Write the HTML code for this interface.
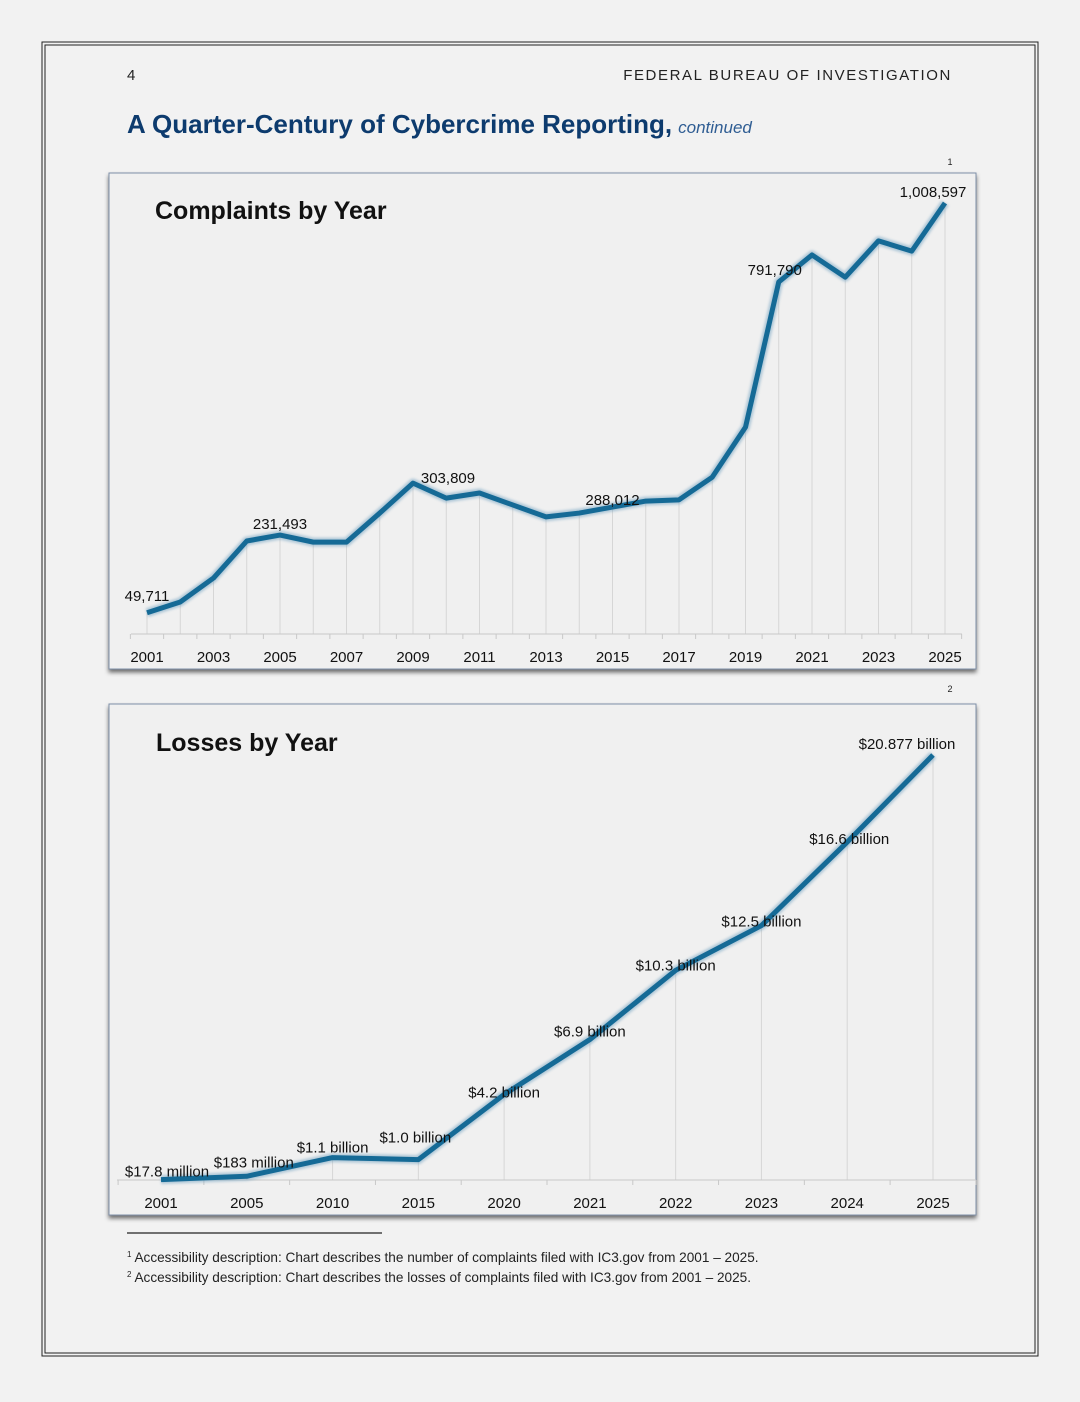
<!DOCTYPE html>
<html><head><meta charset="utf-8">
<style>
html,body{margin:0;padding:0;background:#f2f2f2;}
body{width:1080px;height:1397px;position:relative;font-family:"Liberation Sans",sans-serif;overflow:hidden;}
svg text{font-family:"Liberation Sans",sans-serif;}
</style></head>
<body>
<svg id="page" width="1080" height="1397" viewBox="0 0 1080 1397" xmlns="http://www.w3.org/2000/svg">
<defs>
<filter id="sh" x="-5%" y="-5%" width="110%" height="110%"><feDropShadow dx="0" dy="3" stdDeviation="2" flood-color="#000" flood-opacity="0.55"/></filter>
<filter id="glow" x="-5%" y="-5%" width="110%" height="110%"><feGaussianBlur stdDeviation="1.3"/></filter>
</defs>
<rect x="42" y="42" width="996" height="1314" fill="none" stroke="#222" stroke-width="1"/>
<rect x="45" y="45" width="990" height="1308" fill="none" stroke="#222" stroke-width="1"/>
<text x="127" y="80" font-size="15" fill="#222">4</text>
<text x="952" y="80" font-size="15" fill="#222" text-anchor="end" letter-spacing="1.6">FEDERAL BUREAU OF INVESTIGATION</text>
<text x="127" y="133" font-size="26" font-weight="bold" fill="#0d3b6e">A Quarter-Century of Cybercrime Reporting,<tspan font-size="17" font-weight="normal" font-style="italic" fill="#2f5d93" dx="6">continued</tspan></text>

<text x="950" y="165" font-size="9" fill="#222" text-anchor="middle">1</text>
<rect x="109" y="173" width="867" height="496" fill="#f0f0f0" stroke="#7e8fa8" stroke-width="1" filter="url(#sh)"/>
<text x="155" y="219" font-size="25" font-weight="bold" fill="#111">Complaints by Year</text>
<g id="c1"></g>

<text x="950" y="692" font-size="9" fill="#222" text-anchor="middle">2</text>
<rect x="109" y="704" width="867" height="511" fill="#f0f0f0" stroke="#7e8fa8" stroke-width="1" filter="url(#sh)"/>
<text x="156" y="751" font-size="25" font-weight="bold" fill="#111">Losses by Year</text>
<g id="c2"></g>

<line x1="127" y1="1233" x2="382" y2="1233" stroke="#222" stroke-width="1.2"/>
<text x="127" y="1262" font-size="13.6" fill="#222"><tspan font-size="8" dy="-5">1</tspan><tspan dy="5" dx="3">Accessibility description: Chart describes the number of complaints filed with IC3.gov from 2001 – 2025.</tspan></text>
<text x="127" y="1282" font-size="13.6" fill="#222"><tspan font-size="8" dy="-5">2</tspan><tspan dy="5" dx="3">Accessibility description: Chart describes the losses of complaints filed with IC3.gov from 2001 – 2025.</tspan></text>
</svg>
<script>
const NS="http://www.w3.org/2000/svg";
const complaintYears=[2001,2002,2003,2004,2005,2006,2007,2008,2009,2010,2011,2012,2013,2014,2015,2016,2017,2018,2019,2020,2021,2022,2023,2024,2025];
const complaintValues=[49711,74900,131000,217600,231493,215000,215000,283000,353000,318000,330000,302000,274000,283000,297000,311000,314000,367000,484000,824000,887000,835000,920000,896000,1008597];
const complaintLabels=["49,711","","","","231,493","","","","303,809","","","","","","288,012","","","","","791,790","","","","","1,008,597"];
const lossCategories=["2001","2005","2010","2015","2020","2021","2022","2023","2024","2025"];
const lossValues=[0.0178,0.183,1.1,1.0,4.2,6.9,10.3,12.5,16.6,20.877];
const lossLabels=["$17.8 million","$183 million","$1.1 billion","$1.0 billion","$4.2 billion","$6.9 billion","$10.3 billion","$12.5 billion","$16.6 billion","$20.877 billion"];

function mk(parent,tag,attrs,text){const e=document.createElementNS(NS,tag);for(const k in attrs)e.setAttribute(k,attrs[k]);if(text!==undefined)e.textContent=text;parent.appendChild(e);return e;}

// Chart 1
(function(){
  const g=document.getElementById('c1');
  const x0=147,x1=945,base=634,top=203,vmax=1008597;
  const n=complaintYears.length;
  const xs=i=>x0+(x1-x0)*i/(n-1);
  const ys=v=>base-(base-top)*v/vmax;
  complaintYears.forEach((yr,i)=>{
    const gl=mk(g,'line',{x1:xs(i),x2:xs(i),y1:ys(complaintValues[i]),y2:base,stroke:'#d6d6d6','stroke-width':1});
    
    
  });
  const ax=mk(g,'line',{x1:131,x2:962,y1:base,y2:base,stroke:'#c8c8c8','stroke-width':1});
  
  
  for(let i=0;i<=n;i++){const tx=x0+(x1-x0)*(i-0.5)/(n-1);const t=mk(g,'line',{x1:tx,x2:tx,y1:base,y2:base+5,stroke:'#c8c8c8'});
    
    }
  const pts=complaintValues.map((v,i)=>xs(i)+','+ys(v)).join(' ');
  const glow=mk(g,'polyline',{points:pts,fill:'none',stroke:'#6fa0c0','stroke-width':9,'stroke-linejoin':'round',opacity:0.5,filter:'url(#glow)'});
  
  
  const line=mk(g,'polyline',{points:pts,fill:'none',stroke:'#156a96','stroke-width':5,'stroke-linejoin':'round'});
  
  
  complaintYears.forEach((yr,i)=>{
    if(i%2===0){const t=mk(g,'text',{x:xs(i),y:662,'font-size':15,fill:'#111','text-anchor':'middle'},String(yr));
      
      }
    if(complaintLabels[i]){
      let dx=0,dy=-8;
      if(yr===2001){dx=0;dy=-12;} if(yr===2005){dy=-6;} if(yr===2009){dx=35;dy=0;} if(yr===2015){dx=0;dy=-2;} if(yr===2020){dx=-4;dy=-7;} if(yr===2025){dx=-12;dy=-6;}
      const t=mk(g,'text',{x:xs(i)+dx,y:ys(complaintValues[i])+dy,'font-size':15,fill:'#111','text-anchor':'middle'},complaintLabels[i]);
      
      
    }
  });
})();

// Chart 2
(function(){
  const g=document.getElementById('c2');
  const x0=161,x1=933,base=1180,top=755,vmax=20.877;
  const n=lossCategories.length;
  const xs=i=>x0+(x1-x0)*i/(n-1);
  const ys=v=>base-(base-top)*v/vmax;
  lossCategories.forEach((c,i)=>{
    const gl=mk(g,'line',{x1:xs(i),x2:xs(i),y1:ys(lossValues[i]),y2:base,stroke:'#d6d6d6','stroke-width':1});
    
    
  });
  const ax=mk(g,'line',{x1:117,x2:976,y1:base,y2:base,stroke:'#c8c8c8','stroke-width':1});
  
  
  for(let i=0;i<=n;i++){const tx=x0+(x1-x0)*(i-0.5)/(n-1);const t=mk(g,'line',{x1:tx,x2:tx,y1:base,y2:base+5,stroke:'#c8c8c8'});
    
    }
  const pts=lossValues.map((v,i)=>xs(i)+','+ys(v)).join(' ');
  const glow=mk(g,'polyline',{points:pts,fill:'none',stroke:'#6fa0c0','stroke-width':9,'stroke-linejoin':'round',opacity:0.5,filter:'url(#glow)'});
  
  
  const line=mk(g,'polyline',{points:pts,fill:'none',stroke:'#156a96','stroke-width':5,'stroke-linejoin':'round'});
  
  
  const offs=[[6,-3],[7,-9],[0,-5],[-3,-17],[0,3],[0,-3],[0,0],[0,1],[2,2],[-26,-6]];
  lossCategories.forEach((c,i)=>{
    const t=mk(g,'text',{x:xs(i),y:1208,'font-size':15,fill:'#111','text-anchor':'middle'},c);
    
    
    const l=mk(g,'text',{x:xs(i)+offs[i][0],y:ys(lossValues[i])+offs[i][1],'font-size':15,fill:'#111','text-anchor':'middle'},lossLabels[i]);
    
    
  });
})();
</script>
</body></html>
